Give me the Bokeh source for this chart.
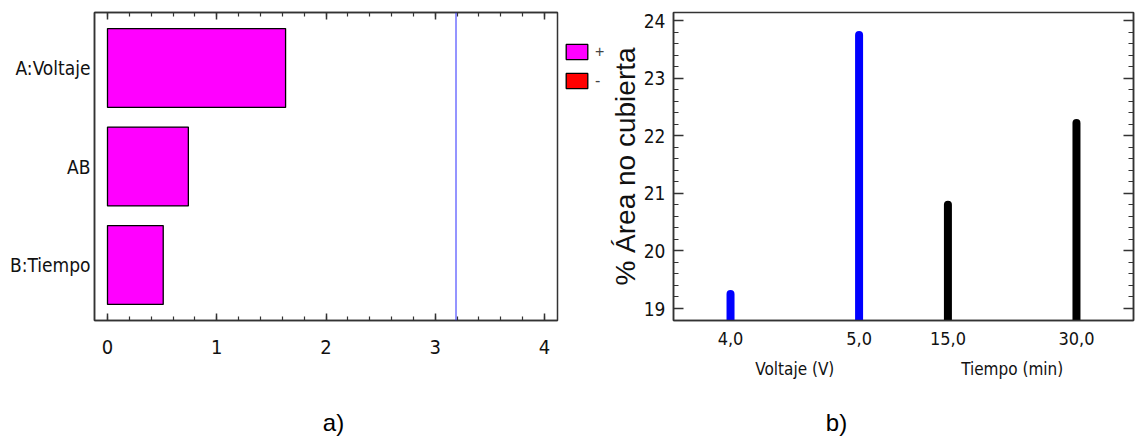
from bokeh.plotting import figure
from bokeh.models import (FactorRange, Range1d, LinearAxis, SingleIntervalTicker, Span,
                          Legend, LegendItem, Label, ColumnDataSource)
from bokeh.layouts import row, column
from bokeh.embed import file_html
from bokeh.resources import INLINE

# ---------------- data ----------------
# a) Pareto chart of standardized effects
effects = ["A:Voltaje", "AB", "B:Tiempo"]
effect_values = [1.63, 0.74, 0.51]
effect_signs = ["+", "+", "+"]
legend_signs = ["+", "-"]
t_critical = 3.19
pareto_x_start, pareto_x_end = -0.119, 4.119

# b) main effects plot
factor_groups = ["Voltaje (V)", "Voltaje (V)", "Tiempo (min)", "Tiempo (min)"]
factor_levels = ["4,0", "5,0", "15,0", "30,0"]
area_values = [19.25, 23.75, 20.80, 22.22]
area_y_start, area_y_end = 18.792, 24.139

panel_labels = ["a)", "b)"]

# ---------------- styles ----------------
NARROW = "DejaVu Sans Condensed"
REG = "Liberation Sans"
AX = "#333333"
sign_colors = {"+": "#ff00ff", "-": "#ff0000"}
group_colors = {"Voltaje (V)": "#0000ff", "Tiempo (min)": "#000000"}
TOP_H = 390
CAP_H = 49
FR_TOP, FR_H = 12, 308
FR_BOTTOM = TOP_H - FR_TOP - FR_H
P1_W = 559
LG_W = 47
P2_W = 1136 - P1_W - LG_W


def style_axis(a, tick_in, minor_in, font_size):
    a.major_tick_in = tick_in
    a.major_tick_out = 0
    a.minor_tick_in = minor_in
    a.minor_tick_out = 0
    a.axis_line_color = AX
    a.axis_line_width = 1.5
    a.major_tick_line_color = AX
    a.minor_tick_line_color = AX
    a.major_tick_line_width = 1.5
    a.minor_tick_line_width = 1.2
    a.major_label_text_font = NARROW
    a.major_label_text_font_size = font_size
    a.major_label_text_color = "#111111"


def blank_axis(tick_in, minor_in):
    a = LinearAxis(ticker=SingleIntervalTicker(interval=1, num_minor_ticks=5))
    style_axis(a, tick_in, minor_in, "1px")
    a.major_label_text_alpha = 0
    a.major_label_standoff = 0
    return a


def bare(fig):
    fig.axis.visible = False
    fig.grid.visible = False
    fig.outline_line_color = None


# ---------------- a) ----------------
p1 = figure(width=P1_W, height=TOP_H,
            y_range=FactorRange(factors=list(reversed(effects)), range_padding=0.042),
            x_range=Range1d(pareto_x_start, pareto_x_end),
            output_backend="svg", toolbar_location=None,
            min_border_left=94, min_border_right=P1_W - 557, min_border_top=FR_TOP,
            min_border_bottom=FR_BOTTOM)
p1.xgrid.visible = False
p1.ygrid.visible = False
p1.outline_line_color = AX
p1.outline_line_width = 1.5

src1 = ColumnDataSource(dict(effect=effects, value=effect_values,
                             color=[sign_colors[s] for s in effect_signs]))
p1.hbar(y="effect", left=0, right="value", height=0.8, source=src1,
        fill_color="color", line_color="#000000", line_width=1.3)

p1.add_layout(Span(location=t_critical, dimension="height", line_color="#2a2aff", line_width=1))

ax = p1.xaxis[0]
ax.ticker = SingleIntervalTicker(interval=1, num_minor_ticks=5)
style_axis(ax, 7, 4, "20px")
ax.major_label_standoff = 19
p1.add_layout(blank_axis(7, 4), "above")

ay = p1.yaxis[0]
style_axis(ay, 0, 0, "19px")
ay.major_tick_line_color = None
ay.minor_tick_line_color = None
ay.major_label_standoff = 4

# legend strip (sign of the effects), beside the Pareto frame
lg = figure(width=LG_W, height=TOP_H, x_range=p1.x_range, y_range=p1.y_range,
            output_backend="svg", toolbar_location=None,
            min_border_left=0, min_border_right=0, min_border_top=FR_TOP,
            min_border_bottom=FR_BOTTOM)
bare(lg)
lg_pos = lg.hbar(y="effect", left=0, right="value", height=0.8, source=src1,
                 fill_color="color", line_color="#000000", line_width=1.3, visible=False)
lg_neg = lg.hbar(y="effect", left=0, right="value", height=0.8, source=src1,
                 fill_color=sign_colors["-"], line_color="#000000", line_width=1.3,
                 visible=False)
legend = Legend(items=[LegendItem(label=legend_signs[0], renderers=[lg_pos]),
                       LegendItem(label=legend_signs[1], renderers=[lg_neg])],
                location="top_left", title=" ", title_text_font_size="14px",
                title_standoff=10,
                glyph_width=27, glyph_height=19, spacing=10, padding=0, margin=4,
                label_standoff=5, label_width=8, border_line_alpha=0,
                background_fill_alpha=0, inactive_fill_alpha=0,
                label_text_font=REG, label_text_font_size="16px", label_height=19)
lg.add_layout(legend, "center")

# ---------------- b) ----------------
factors = list(zip(factor_groups, factor_levels))
p2 = figure(width=P2_W, height=TOP_H,
            x_range=FactorRange(factors=factors, factor_padding=0.447, group_padding=0,
                                range_padding=0.058),
            y_range=Range1d(area_y_start, area_y_end),
            output_backend="svg", toolbar_location=None,
            min_border_left=669 - P1_W - LG_W, min_border_right=3, min_border_top=FR_TOP,
            min_border_bottom=FR_BOTTOM)
p2.xgrid.visible = False
p2.ygrid.visible = False
p2.outline_line_color = AX
p2.outline_line_width = 1.5

src2 = ColumnDataSource(dict(x=factors, base=[area_y_start] * len(factors), y=area_values,
                             color=[group_colors[g] for g in factor_groups]))
p2.segment(x0="x", y0="base", x1="x", y1="y", source=src2, line_color="color",
           line_width=8, line_cap="round")

bx = p2.xaxis[0]
style_axis(bx, 0, 0, "18px")
bx.major_tick_line_color = None
bx.minor_tick_line_color = None
bx.separator_line_alpha = 0
bx.major_label_standoff = 11
bx.group_text_font = NARROW
bx.group_text_font_size = "17px"
bx.group_text_font_style = "normal"
bx.group_text_color = "#111111"

by = p2.yaxis[0]
by.ticker = SingleIntervalTicker(interval=1, num_minor_ticks=5)
style_axis(by, 10, 5, "19px")
by.major_label_standoff = 8
by.axis_label = "% Área no cubierta"
by.axis_label_text_font = REG
by.axis_label_text_font_size = "28px"
by.axis_label_text_font_style = "normal"
by.axis_label_text_color = "#111111"
by.axis_label_standoff = 0

p2.add_layout(blank_axis(10, 5), "right")


# ---------------- panel captions ----------------
def caption_strip(width, text, x_center):
    s = figure(width=width, height=CAP_H, x_range=Range1d(0, width), y_range=Range1d(0, CAP_H),
               output_backend="svg", toolbar_location=None,
               min_border_left=0, min_border_right=0, min_border_top=0, min_border_bottom=0)
    bare(s)
    s.add_layout(Label(x=x_center, y=17, x_units="screen", y_units="screen", text=text,
                       text_font=REG, text_font_size="24px", text_align="center",
                       text_baseline="middle", text_color="#000000"))
    return s


s1 = caption_strip(P1_W + LG_W, panel_labels[0], 333)
s2 = caption_strip(P2_W, panel_labels[1], 836 - P1_W - LG_W)

layout = column(row(p1, lg, p2), row(s1, s2))
open("out.html", "w").write(file_html(layout, INLINE))
